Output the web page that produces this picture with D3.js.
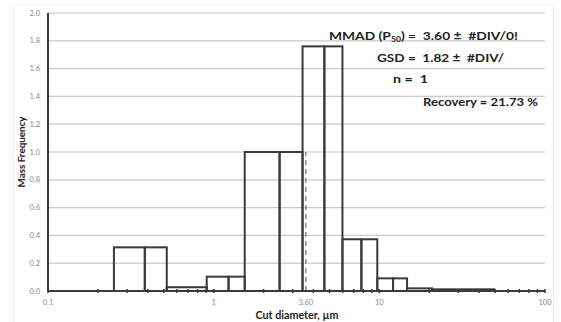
<!DOCTYPE html>
<html>
<head>
<meta charset="utf-8">
<script src="https://cdn.jsdelivr.net/npm/d3@7"></script>
<style>
  body { margin: 0; background: #fff; }
  svg { display: block; font-family: Lato, "Open Sans", sans-serif; }
</style>
</head>
<body>
<div id="chart"></div>
<script>
var svgWidth = 561;
var svgHeight = 322;

// bin edges (cut diameters, um) and mass frequency of each bin
var binEdges = [0.25, 0.384, 0.521, 0.908, 1.23, 1.54, 2.50, 3.44, 4.66, 5.99, 7.79, 9.72, 12.1, 14.7, 20.8, 49.3];
var binHeights = [0.314, 0.314, 0.027, 0.103, 0.103, 1.0, 1.0, 1.76, 1.76, 0.372, 0.372, 0.091, 0.091, 0.019, 0.012];

var yTicks = [0, 0.2, 0.4, 0.6, 0.8, 1.0, 1.2, 1.4, 1.6, 1.8, 2.0];
var xTicks = [0.1, 1, 3.6, 10, 100];
var xTickLabels = ["0.1", "1", "3.60", "10", "100"];

var mmad = 3.60;
var mmadLineTop = 1.0;

var notes = [
  { text: "MMAD (P", sub: "50", rest: ") =  3.60 ±  #DIV/0!", x: 329, y: 40, size: 12, len: 189 },
  { text: "GSD =  1.82 ±  #DIV/", x: 377, y: 62, size: 12, len: 127 },
  { text: "n =  1", x: 393, y: 83, size: 12, len: 35 },
  { text: "Recovery = 21.73 %", x: 423, y: 106, size: 10.5, len: 115 }
];

var margin = { top: 13, right: 16, bottom: 31, left: 48 };
var width = svgWidth - margin.left - margin.right;
var height = svgHeight - margin.top - margin.bottom;

var svg = d3.select("#chart")
  .append("svg")
  .attr("width", svgWidth)
  .attr("height", svgHeight);

// faint frame of the chart area
svg.append("rect")
  .attr("x", 13.5)
  .attr("y", 4.5)
  .attr("width", 540)
  .attr("height", 320)
  .attr("fill", "none")
  .attr("stroke", "#f0f0f0");

var chartGroup = svg.append("g")
  .attr("transform", `translate(${margin.left}, ${margin.top})`);

var x = d3.scaleLog().domain([0.1, 100]).range([0, width]);
var y = d3.scaleLinear().domain([0, 2]).range([height, 0]);

// horizontal gridlines
chartGroup.selectAll(".grid")
  .data(yTicks.slice(1))
  .enter()
  .append("line")
  .attr("x1", 0)
  .attr("x2", width)
  .attr("y1", d => y(d))
  .attr("y2", d => y(d))
  .attr("stroke", "#c9c9c9")
  .attr("stroke-width", 1.2);

// y tick labels
chartGroup.selectAll(".ylab")
  .data(yTicks)
  .enter()
  .append("text")
  .attr("x", -8)
  .attr("y", d => y(d))
  .attr("dy", "0.35em")
  .attr("text-anchor", "end")
  .attr("font-size", "7.5px")
  .attr("fill", "#888")
  .text(d => d.toFixed(1));

// bars: each bin as an outlined rectangle
var binData = binHeights.map((h, i) => ({ x0: binEdges[i], x1: binEdges[i + 1], h: h }));

chartGroup.selectAll(".bin")
  .data(binData)
  .enter()
  .append("rect")
  .attr("x", d => x(d.x0))
  .attr("width", d => x(d.x1) - x(d.x0))
  .attr("y", d => y(d.h))
  .attr("height", d => y(0) - y(d.h))
  .attr("fill", "none")
  .attr("stroke", "#3a3a3a")
  .attr("stroke-width", 2);

// MMAD dashed line
chartGroup.append("line")
  .attr("x1", x(mmad))
  .attr("x2", x(mmad))
  .attr("y1", y(0))
  .attr("y2", y(mmadLineTop))
  .attr("stroke", "#8a8a8a")
  .attr("stroke-width", 1.5)
  .attr("stroke-dasharray", "5,4");

// x axis line with log ticks
chartGroup.append("line")
  .attr("x1", 0)
  .attr("x2", width)
  .attr("y1", height)
  .attr("y2", height)
  .attr("stroke", "#3a3a3a")
  .attr("stroke-width", 2);

var minorTicks = [];
[0.1, 1, 10].forEach(function(dec) {
  for (var k = 1; k <= 10; k++) minorTicks.push(dec * k);
});

chartGroup.selectAll(".mtick")
  .data(minorTicks)
  .enter()
  .append("line")
  .attr("x1", d => x(d))
  .attr("x2", d => x(d))
  .attr("y1", height - 2)
  .attr("y2", height + 2)
  .attr("stroke", "#3a3a3a")
  .attr("stroke-width", 1.5);

// y axis line
chartGroup.append("line")
  .attr("x1", 0)
  .attr("x2", 0)
  .attr("y1", 0)
  .attr("y2", height)
  .attr("stroke", "#3a3a3a")
  .attr("stroke-width", 2);

// x tick labels
chartGroup.selectAll(".xlab")
  .data(xTicks)
  .enter()
  .append("text")
  .attr("x", d => x(d))
  .attr("y", height + 14)
  .attr("text-anchor", "middle")
  .attr("font-size", "7.5px")
  .attr("fill", "#888")
  .text((d, i) => xTickLabels[i]);

// axis titles
svg.append("text")
  .attr("x", 297)
  .attr("y", 319)
  .attr("text-anchor", "middle")
  .attr("font-size", "10.5px")
  .attr("font-weight", "bold")
  .attr("fill", "#222")
  .attr("textLength", 83)
  .attr("lengthAdjust", "spacingAndGlyphs")
  .text("Cut diameter, µm");

svg.append("text")
  .attr("transform", "translate(25, 152) rotate(-90)")
  .attr("text-anchor", "middle")
  .attr("font-size", "10px")
  .attr("font-weight", "bold")
  .attr("fill", "#222")
  .attr("textLength", 71)
  .attr("lengthAdjust", "spacingAndGlyphs")
  .text("Mass Frequency");

// annotation texts
notes.forEach(function(n) {
  var t = svg.append("text")
    .attr("x", n.x)
    .attr("y", n.y)
    .attr("font-size", n.size + "px")
    .attr("font-weight", "bold")
    .attr("fill", "#222")
    .attr("xml:space", "preserve");
  if (n.sub) {
    t.append("tspan").text(n.text);
    t.append("tspan").attr("font-size", "7.5px").attr("dy", 2).text(n.sub);
    t.append("tspan").attr("dy", -2).text(n.rest);
    // stretch the whole line to the measured width
    var w = t.node().getComputedTextLength();
    t.attr("transform", `translate(${n.x},0) scale(${n.len / w},1) translate(${-n.x},0)`);
  } else {
    t.attr("textLength", n.len)
      .attr("lengthAdjust", "spacingAndGlyphs")
      .text(n.text);
  }
});
</script>
</body>
</html>
